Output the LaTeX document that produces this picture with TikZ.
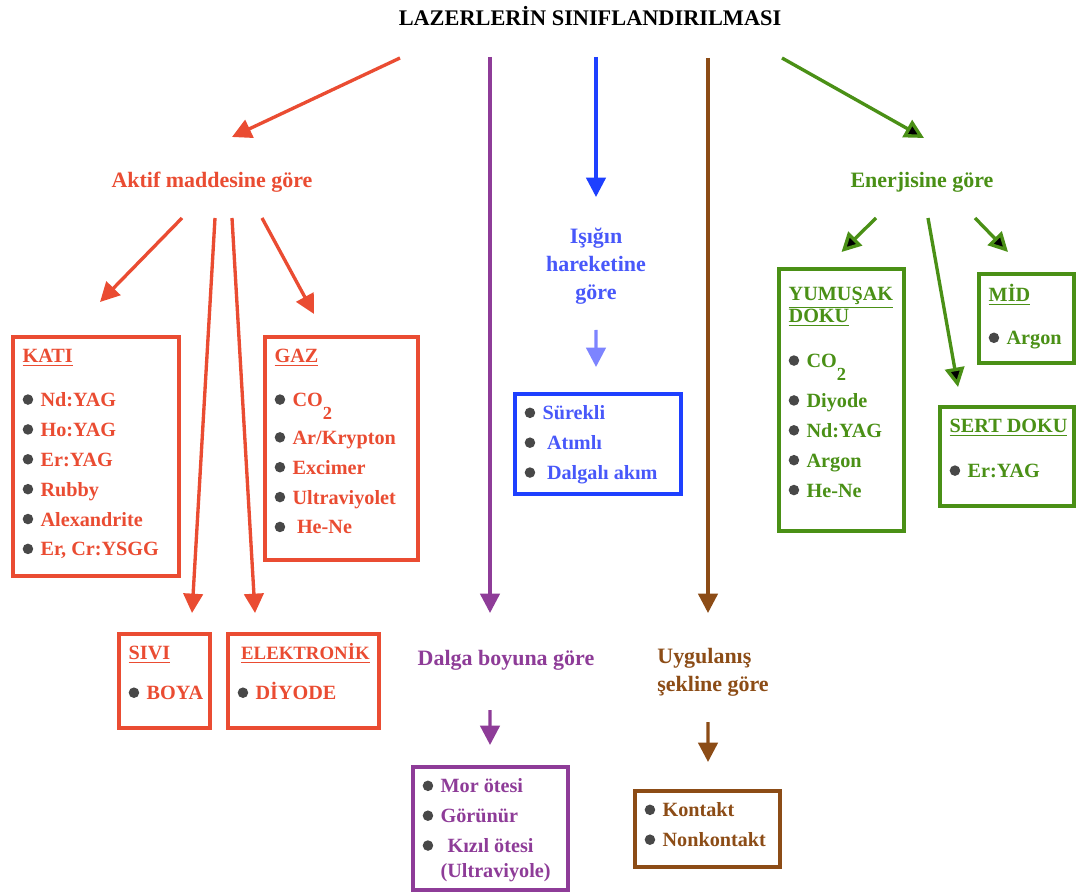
\documentclass[tikz,border=0pt]{standalone}
\usepackage{fontspec}
\setmainfont{Liberation Serif}
\usepackage{tikz}
\usetikzlibrary{arrows.meta, calc}
\definecolor{LaserRed}{RGB}{234, 76, 50}
\definecolor{LaserPurple}{RGB}{142, 60, 152}
\definecolor{LaserBlue}{RGB}{30, 64, 255}
\definecolor{BlueText}{RGB}{72, 88, 250}
\definecolor{SoftBlue}{RGB}{125, 132, 255}
\definecolor{LaserBrown}{RGB}{140, 76, 22}
\definecolor{LaserGreen}{RGB}{74, 144, 22}
\definecolor{BulletGray}{RGB}{72, 72, 72}
\newlength{\pxu}\setlength{\pxu}{0.02cm}
\newcommand{\itm}{\tikz[baseline=-4pt]\fill[BulletGray] (0,0) circle (3pt);\nobreak\hspace{4.2pt}}
\newcommand{\hd}[1]{\underline{#1}}
\newcommand{\sub}{\raisebox{-7.5pt}{\fontsize{10.5}{10}\selectfont 2}}
\newcommand{\bx}[3]{\parbox[c][\dimexpr #2\pxu-4\pxu-6pt\relax][t]{\dimexpr #1\pxu-4\pxu-11pt\relax}{\rule{0pt}{11.7pt}#3}}
\tikzset{
  catbox/.style={draw=#1, text=#1, line width=2.3pt, anchor=north west,
    inner xsep=5.5pt, inner ysep=3pt, font=\fontsize{11.5}{17}\selectfont\bfseries},
  lbl/.style={text=#1, inner sep=0pt, font=\fontsize{12.5}{15.9}\selectfont\bfseries},
  arr/.style={-{Triangle[length=11pt, width=11pt]}, line width=1.9pt, draw=#1},
}

\begin{document}
\begin{tikzpicture}[x=0.02cm, y=-0.02cm]
  \useasboundingbox (0,0) rectangle (1079,895);
  \fill[white] (0,0) rectangle (1079,895);
  % headings
  \node[lbl=black, font=\fontsize{12.7}{15}\selectfont\bfseries]
    (title) at (590,16) {LAZERLERİN SINIFLANDIRILMASI};
  \node[lbl=LaserRed] (aktif) at (212,182) {Aktif maddesine göre};
  \node[lbl=LaserGreen] (ener) at (922,182) {Enerjisine göre};
  \node[lbl=BlueText, align=center] (isik) at (596,266) {Işığın\\hareketine\\göre};
  \node[lbl=LaserPurple] (dalga) at (506,660) {Dalga boyuna göre};
  \node[lbl=LaserBrown, align=left] (uyg) at (713,672) {Uygulanış\\şekline göre};
  % boxes
  \node[catbox=LaserRed] (kati) at (11,335) {\bx{170}{243}{\hd{KATI}\\[7.9pt]
    \itm Nd:YAG\\ \itm Ho:YAG\\ \itm Er:YAG\\ \itm Rubby\\ \itm Alexandrite\\
    \itm Er, Cr:YSGG}};
  \node[catbox=LaserRed] (gaz) at (263,335) {\bx{157}{227}{\hd{GAZ}\\[7.9pt]
    \itm CO\sub\\[4.5pt] \itm Ar/Krypton\\ \itm Excimer\\ \itm Ultraviyolet\\
    \itm\hspace{2.5pt}He-Ne}};
  \node[catbox=LaserRed] (sivi) at (117,632) {\bx{95}{98}{\hd{SIVI}\\[5.7pt] \itm BOYA}};
  \node[catbox=LaserRed] (elek) at (226,632) {\bx{155}{98}{\hspace*{2pt}%
    {\fontsize{10.7}{17}\selectfont\hd{ELEKTRONİK}}\\[5.7pt] \itm DİYODE}};
  \node[catbox=LaserBlue, text=BlueText] (sur) at (513,392) {\bx{170}{104}{%
    \itm Sürekli\\ \itm\hspace{2.5pt}Atımlı\\ \itm\hspace{2.5pt}Dalgalı akım}};
  \node[catbox=LaserPurple] (mor) at (411,765) {\bx{159}{127}{%
    \itm Mor ötesi\\ \itm Görünür\\ \itm\hspace{4pt}Kızıl ötesi\\[-2.8pt]
    \hspace*{10.2pt}(Ultraviyole)}};
  \node[catbox=LaserBrown] (kon) at (633,789) {\bx{149}{80}{\itm Kontakt\\ \itm Nonkontakt}};
  \node[catbox=LaserGreen] (yum) at (777,267) {\bx{129}{266}{\rule{0pt}{15.1pt}%
    \hd{YUMUŞAK}\\[-4.5pt] \hd{DOKU}\\[8.5pt] \itm CO\sub\\[5.7pt] \itm Diyode\\
    \itm Nd:YAG\\ \itm Argon\\ \itm He-Ne}};
  \node[catbox=LaserGreen] (mid) at (977,272) {\bx{99}{93}{\rule{0pt}{12.9pt}%
    \hd{MİD}\\[7.4pt] \itm Argon}};
  \node[catbox=LaserGreen] (sert) at (938,405) {\bx{138}{103}{\hd{SERT DOKU}\\[8.5pt]
    \itm Er:YAG}};
  % connectors from the title
  \draw[arr=LaserRed] ($(title)+(-190,42)$) -- ($(aktif)+(20,-45)$);
  \draw[arr=LaserPurple] ($(title)+(-100,41)$) -- ($(dalga)+(-16,-47)$);
  \draw[arr=LaserBlue] ($(title)+(6,41)$) -- ($(isik)+(0,-69)$);
  \draw[arr=LaserBrown] ($(title)+(118,42)$) -- ($(uyg)+(-5,-59)$);
  \draw[arr=LaserGreen] ($(title)+(192,42)$) -- ($(ener)+(2,-44)$);
  % second level
  \draw[arr=LaserRed] ($(aktif)+(-30,36)$) -- ($(kati.north)+(4,-33)$);
  \draw[arr=LaserRed] ($(aktif)+(50,36)$) -- ($(gaz.north)+(-27.5,-21)$);
  \draw[arr=LaserRed] ($(aktif)+(3,36)$) -- ($(sivi.north)+(27.5,-19)$);
  \draw[arr=LaserRed] ($(aktif)+(20,36)$) -- ($(elek.north)+(-48.5,-19)$);
  \draw[arr=SoftBlue] ($(isik)+(0,64)$) -- ($(sur.north)+(-2,-25)$);
  \draw[arr=LaserPurple] ($(dalga)+(-16,50)$) -- ($(mor.north)+(-0.5,-20)$);
  \draw[arr=LaserBrown] ($(uyg)+(-5,50)$) -- ($(kon.north)+(0.5,-27)$);
  \draw[arr=LaserGreen] ($(ener)+(-46,36)$) -- ($(yum.north)+(0,-15)$);
  \draw[arr=LaserGreen] ($(ener)+(6,36)$) -- ($(sert.north)+(-49,-18)$);
  \draw[arr=LaserGreen] ($(ener)+(53,36)$) -- ($(mid.north)+(-18.5,-20)$);
\end{tikzpicture}
\end{document}
